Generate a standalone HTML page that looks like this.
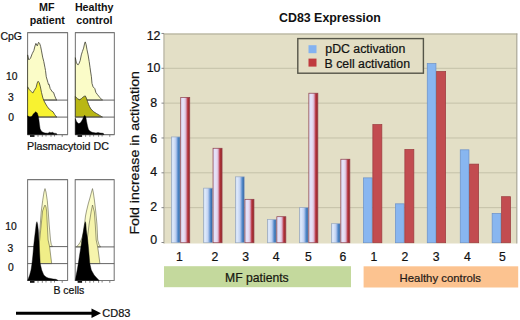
<!DOCTYPE html>
<html><head><meta charset="utf-8">
<style>
html,body{margin:0;padding:0;background:#fff;}
body{width:520px;height:320px;overflow:hidden;}
svg{display:block;font-family:"Liberation Sans",sans-serif;}
text{stroke:#111;stroke-width:0.22px;}
g[font-weight=bold] text, text[font-weight=bold]{stroke:none;}
</style></head>
<body>
<svg width="520" height="320" viewBox="0 0 520 320">
<defs>
<linearGradient id="gb" x1="0" x2="1" y1="0" y2="0">
<stop offset="0" stop-color="#b8c4d0"/>
<stop offset="0.08" stop-color="#d4e2f8"/>
<stop offset="0.2" stop-color="#dde8fa"/>
<stop offset="0.45" stop-color="#c6d6f4"/>
<stop offset="0.6" stop-color="#9cb8e6"/>
<stop offset="0.72" stop-color="#6494d0"/>
<stop offset="0.82" stop-color="#4680c0"/>
<stop offset="0.92" stop-color="#3a6cac"/>
<stop offset="1" stop-color="#4070a8"/>
</linearGradient>
<linearGradient id="gr" x1="0" x2="1" y1="0" y2="0">
<stop offset="0" stop-color="#d8d8f0"/>
<stop offset="0.1" stop-color="#e2e2fa"/>
<stop offset="0.35" stop-color="#e6e0f6"/>
<stop offset="0.5" stop-color="#e0c8e0"/>
<stop offset="0.62" stop-color="#d090a8"/>
<stop offset="0.72" stop-color="#c04858"/>
<stop offset="0.82" stop-color="#a83034"/>
<stop offset="0.95" stop-color="#a02c30"/>
<stop offset="1" stop-color="#b85050"/>
</linearGradient>
</defs>

<!-- ===== LEFT PANEL ===== -->
<g font-weight="bold" font-size="10.7" text-anchor="middle" fill="#111">
<text x="46.8" y="11.2">MF</text>
<text x="47.3" y="24.1">patient</text>
<text x="94.2" y="11.1">Healthy</text>
<text x="94.4" y="24.1">control</text>
</g>
<text x="0.4" y="40.3" font-size="10.5" fill="#111">CpG</text>
<g font-size="10.3" fill="#111" text-anchor="end">
<text x="17.5" y="79.6">10</text>
<text x="13.7" y="100.6">3</text>
<text x="14" y="121">0</text>
<text x="16.7" y="230.4">10</text>
<text x="13.3" y="251.6">3</text>
<text x="13.7" y="271.3">0</text>
</g>

<!-- pDC MF box -->
<g stroke-linejoin="round">
<rect x="27.6" y="32.6" width="40" height="102" fill="#fff" stroke="#767676" stroke-width="1.05"/>
<path d="M27.6,100 L27.6,54.9 L28.8,59.9 L30.5,58.2 L32.2,53.75 L33.9,50.4 L35,45.9 L35.9,43.4 L37.25,45.9 L38.6,42.3 L39.7,43.6 L40.6,46.4 L41.5,50.9 L42.65,57.1 L43.8,61.6 L44.9,67.25 L45.5,70.5 L46.25,76.75 L47.9,82.4 L48.5,84.6 L49.1,84.2 L50.2,88.6 L52.4,91.9 L53.6,92.5 L54.7,95.9 L56.4,99.8 L57,100 Z" fill="#fbfcc8" stroke="#3c3c30" stroke-width="0.8"/>
<line x1="27.6" y1="100.1" x2="67.6" y2="100.1" stroke="#555" stroke-width="0.9"/>
<path d="M27.6,117 L27.6,86.9 L29.4,89.7 L31.1,91.4 L32.75,93.1 L34.4,90.25 L36.1,87.4 L37.25,82.9 L38.15,81.25 L39.3,82.9 L40.4,86.9 L41.5,92.5 L42.9,98.1 L44,100.9 L45.7,104 L47.4,106.75 L49.1,109 L51.3,110.7 L53,111.8 L54.7,114.6 L56.4,116.9 L57,117 Z" fill="#f8f230" stroke="#3c3c30" stroke-width="0.8"/>
<line x1="27.6" y1="117.1" x2="67.6" y2="117.1" stroke="#555" stroke-width="0.9"/>
<path d="M27.6,134.6 L27.6,115.75 L29.4,116.9 L31.1,116.9 L32.2,115.75 L33.3,114.1 L34.4,112.9 L35.6,111.8 L37.25,112.9 L38.15,115.75 L38.9,119.7 L39.5,124.75 L40.1,128.7 L41.2,130.9 L42.9,132.3 L45,133 L48,133.2 L49.5,132.2 L51,132.8 L52.5,132.3 L54,133.2 L56.4,133.4 L57,134.6 Z" fill="#000" stroke="#000" stroke-width="0.4"/>
</g>

<!-- pDC Healthy box -->
<g stroke-linejoin="round">
<rect x="75.35" y="32.6" width="39" height="102" fill="#fff" stroke="#767676" stroke-width="1.05"/>
<path d="M75.35,100 L75.35,57.7 L76.25,62.2 L77.4,64.5 L78.2,64.8 L79.1,63.3 L80.2,60.5 L81.3,54.9 L82.4,51.5 L83.6,48.1 L84.7,43.1 L85.25,41.9 L86.15,44.75 L86.9,49.25 L88.1,54.9 L89.2,61.6 L90,67.25 L90.5,71 L91.4,76.75 L92,83.5 L93.1,86.9 L94.8,88.6 L95.9,92.5 L97.6,94.75 L99.9,97.6 L102.1,99.8 L102.5,100 Z" fill="#fbfcc8" stroke="#3c3c30" stroke-width="0.8"/>
<line x1="75.35" y1="100.1" x2="114.35" y2="100.1" stroke="#555" stroke-width="0.9"/>
<path d="M75.35,117 L75.35,96.4 L77.4,98.7 L79.6,99.8 L81.3,98.7 L82.4,97.6 L84.1,96.4 L85.25,95.9 L86.4,98.1 L87.5,101.5 L88.6,104.5 L89.5,106.5 L90.9,109 L93.7,111.8 L96.5,113.5 L99.3,115.2 L102.1,116.9 L102.5,117 Z" fill="#b9b714" stroke="#3c3c30" stroke-width="0.8"/>
<line x1="75.35" y1="117.1" x2="114.35" y2="117.1" stroke="#555" stroke-width="0.9"/>
<path d="M75.35,134.6 L75.35,118.6 L76.8,121.9 L78.5,123.6 L80.2,123.1 L81.3,121.4 L82.4,119.7 L83.6,116.9 L84.7,115.2 L85.8,116.9 L86.6,121.4 L87.5,125.9 L88.4,129.25 L89.75,130.9 L92,132.3 L96,133 L98,132.5 L100,133 L103.25,133.3 L104,134.6 Z" fill="#000" stroke="#000" stroke-width="0.4"/>
</g>

<text x="27" y="149.6" font-size="10.7" fill="#111">Plasmacytoid DC</text>

<!-- B cell MF box -->
<g stroke-linejoin="round">
<rect x="27.6" y="179.6" width="40" height="100.9" fill="#fff" stroke="#767676" stroke-width="1.05"/>
<path d="M36.5,246.6 L37.5,244 L38.8,240 L40,228 L41.2,212 L42.65,200.75 L44,192 L45,188.6 L46,192 L47.3,200.75 L48.2,211 L49.2,225 L50.5,240 L51.3,244.5 L52.5,246.6 Z" fill="#fbfcc8" stroke="#5e5e44" stroke-width="0.6"/>
<line x1="27.6" y1="246.6" x2="67.6" y2="246.6" stroke="#555" stroke-width="0.9"/>
<path d="M37,263.6 L38.5,250 L39.7,240 L41.2,225 L42.6,211 L44,207 L45,205 L46,207 L46.6,211 L47.3,225 L48.1,240 L49.6,246.6 L50.6,255 L51.7,263.6 Z" fill="#f0ee88" stroke="#5e5e44" stroke-width="0.6"/>
<line x1="27.6" y1="263.6" x2="67.6" y2="263.6" stroke="#555" stroke-width="0.9"/>
<path d="M27.6,280.4 L28,279.5 L29.7,275 L31,270 L32,263.6 L32.9,255 L33.6,246.6 L34.3,240 L35.5,230 L36.2,224 L36.9,221.7 L37.6,224 L38.3,230 L38.9,240 L39.4,248 L40.2,263.6 L41.7,270 L43.8,275 L46,277 L48.1,278 L53.2,279 L56,279.3 L58,280.4 Z" fill="#000" stroke="#000" stroke-width="0.4"/>
</g>

<!-- B cell Healthy box -->
<g stroke-linejoin="round">
<rect x="75.2" y="179.6" width="39" height="100.9" fill="#fff" stroke="#767676" stroke-width="1.05"/>
<path d="M76.2,246.9 L78,245.5 L80,242.5 L82,238 L83.5,232 L84.4,225 L85.5,216 L86.5,211 L88.2,204 L90.2,197 L91.5,192 L92.5,188.6 L93.4,193 L94.4,200 L95.8,212 L97,225 L97.7,240 L99,244.5 L100.6,246.9 Z" fill="#fbfcc8" stroke="#5e5e44" stroke-width="0.6"/>
<line x1="75.2" y1="246.9" x2="114.2" y2="246.9" stroke="#555" stroke-width="0.9"/>
<path d="M84,263.6 L85.5,255 L87.2,240 L89,225 L91.1,212 L92.5,205 L93.6,209 L94.4,212 L95.3,225 L96.2,240 L97.7,246.9 L98.8,255 L99.9,263.6 Z" fill="#f6f4ac" stroke="#5e5e44" stroke-width="0.6"/>
<line x1="75.2" y1="263.6" x2="114.2" y2="263.6" stroke="#555" stroke-width="0.9"/>
<path d="M75.3,280.4 L76.2,275 L77.2,270 L78.3,263.6 L79.6,255 L80.9,246.9 L81.9,240 L83.6,230 L84.6,224 L85.4,221.7 L85.9,224 L86.3,230 L87.7,240 L88.4,246.9 L89.8,263.6 L91.3,270 L94.1,275 L97.7,279 L99.2,280.4 Z" fill="#000" stroke="#000" stroke-width="0.4"/>
</g>

<!-- axis ticks under boxes -->
<g fill="#111">
<rect x="30" y="135.1" width="4.5" height="1.8"/>
<rect x="77.6" y="135.1" width="4.5" height="1.8"/>
<rect x="30" y="281" width="4.5" height="1.8"/>
<rect x="77.6" y="281" width="4.5" height="1.8"/>
</g>
<g stroke="#606060" stroke-width="0.8">
<path d="M38,135 v1.8 M42.3,135 v1.8 M46,135 v1.5 M51,135 v1.8 M54.5,135 v1.5 M62.2,135 v1.8"/>
<path d="M85.6,135 v1.8 M89.9,135 v1.8 M93.6,135 v1.5 M98.6,135 v1.8 M102.1,135 v1.5 M109.8,135 v1.8"/>
<path d="M38,281 v1.8 M42.3,281 v1.8 M46,281 v1.5 M51,281 v1.8 M54.5,281 v1.5 M62.2,281 v1.8"/>
<path d="M85.6,281 v1.8 M89.9,281 v1.8 M93.6,281 v1.5 M98.6,281 v1.8 M102.1,281 v1.5 M109.8,281 v1.8"/>
</g>

<text x="53.4" y="294.3" font-size="10.5" fill="#111">B cells</text>

<!-- arrow -->
<line x1="16" y1="313.3" x2="93" y2="313.3" stroke="#000" stroke-width="3"/>
<path d="M91.5,308.5 L101,313.3 L91.5,318 Z" fill="#000"/>
<text x="102.3" y="317" font-size="11" fill="#111">CD83</text>

<!-- ===== RIGHT CHART ===== -->
<text x="279" y="22.3" font-size="12.4" font-weight="bold" fill="#111">CD83 Expression</text>

<rect x="163.5" y="33.5" width="353" height="210" fill="#e3dfc6"/>
<g stroke="#c4c1a8" stroke-width="1">
<line x1="164" x2="516.5" y1="207.66" y2="207.66"/>
<line x1="164" x2="516.5" y1="172.82" y2="172.82"/>
<line x1="164" x2="516.5" y1="137.98" y2="137.98"/>
<line x1="164" x2="516.5" y1="103.14" y2="103.14"/>
<line x1="164" x2="516.5" y1="68.30" y2="68.30"/>
</g>
<line x1="163.5" y1="34" x2="517.4" y2="34" stroke="#aaa794" stroke-width="1.2"/>
<line x1="516.8" y1="33.5" x2="516.8" y2="243.5" stroke="#a9a694" stroke-width="1.2"/>
<line x1="164" y1="33.5" x2="164" y2="243.5" stroke="#b2b0a2" stroke-width="1.1"/>
<g stroke="#888" stroke-width="1">
<line x1="161.5" x2="164" y1="242.50" y2="242.50"/>
<line x1="161.5" x2="164" y1="207.66" y2="207.66"/>
<line x1="161.5" x2="164" y1="172.82" y2="172.82"/>
<line x1="161.5" x2="164" y1="137.98" y2="137.98"/>
<line x1="161.5" x2="164" y1="103.14" y2="103.14"/>
<line x1="161.5" x2="164" y1="68.30" y2="68.30"/>
<line x1="161.5" x2="164" y1="33.46" y2="33.46"/>
</g>
<g font-size="12.4" fill="#111" text-anchor="middle">
<text x="153.6" y="39.60">12</text>
<text x="153.6" y="71.70">10</text>
<text x="153.6" y="107.10">8</text>
<text x="153.6" y="143.00">6</text>
<text x="153.6" y="176.30">4</text>
<text x="153.6" y="211.30">2</text>
<text x="153.6" y="244.35">0</text>
</g>
<text transform="translate(138.7,234.6) rotate(-90)" font-size="13.6" fill="#111" textLength="163.5" lengthAdjust="spacingAndGlyphs">Fold increase in activation</text>

<g>
<rect x="171.35" y="136.94" width="8.70" height="105.81" fill="url(#gb)" stroke="#98a8c0" stroke-width="0.7"/>
<rect x="180.75" y="97.39" width="9.00" height="145.36" fill="url(#gr)" stroke="#8c3a48" stroke-width="0.7"/>
<rect x="203.65" y="188.15" width="8.70" height="54.60" fill="url(#gb)" stroke="#98a8c0" stroke-width="0.7"/>
<rect x="213.05" y="148.26" width="9.00" height="94.49" fill="url(#gr)" stroke="#8c3a48" stroke-width="0.7"/>
<rect x="235.55" y="176.83" width="8.70" height="65.92" fill="url(#gb)" stroke="#98a8c0" stroke-width="0.7"/>
<rect x="244.95" y="199.30" width="9.00" height="43.45" fill="url(#gr)" stroke="#8c3a48" stroke-width="0.7"/>
<rect x="267.45" y="219.51" width="8.70" height="23.24" fill="url(#gb)" stroke="#98a8c0" stroke-width="0.7"/>
<rect x="276.85" y="216.72" width="9.00" height="26.03" fill="url(#gr)" stroke="#8c3a48" stroke-width="0.7"/>
<rect x="299.45" y="207.66" width="8.70" height="35.09" fill="url(#gb)" stroke="#98a8c0" stroke-width="0.7"/>
<rect x="308.85" y="93.21" width="9.00" height="149.54" fill="url(#gr)" stroke="#8c3a48" stroke-width="0.7"/>
<rect x="331.45" y="223.69" width="8.70" height="19.06" fill="url(#gb)" stroke="#98a8c0" stroke-width="0.7"/>
<rect x="340.85" y="159.23" width="9.00" height="83.52" fill="url(#gr)" stroke="#8c3a48" stroke-width="0.7"/>
<rect x="363.45" y="177.87" width="8.70" height="64.88" fill="#88b6f0" stroke="#6a90c8" stroke-width="0.7"/>
<rect x="372.85" y="124.57" width="9.00" height="118.18" fill="#c24c50" stroke="#9a3a3e" stroke-width="0.7"/>
<rect x="395.45" y="203.83" width="8.70" height="38.92" fill="#88b6f0" stroke="#6a90c8" stroke-width="0.7"/>
<rect x="404.85" y="149.48" width="9.00" height="93.27" fill="#c24c50" stroke="#9a3a3e" stroke-width="0.7"/>
<rect x="427.25" y="63.60" width="8.70" height="179.15" fill="#88b6f0" stroke="#6a90c8" stroke-width="0.7"/>
<rect x="436.65" y="71.44" width="9.00" height="171.31" fill="#c24c50" stroke="#9a3a3e" stroke-width="0.7"/>
<rect x="460.25" y="149.83" width="8.70" height="92.92" fill="#88b6f0" stroke="#6a90c8" stroke-width="0.7"/>
<rect x="469.65" y="164.11" width="9.00" height="78.64" fill="#c24c50" stroke="#9a3a3e" stroke-width="0.7"/>
<rect x="492.15" y="213.41" width="8.70" height="29.34" fill="#88b6f0" stroke="#6a90c8" stroke-width="0.7"/>
<rect x="501.55" y="196.69" width="9.00" height="46.06" fill="#c24c50" stroke="#9a3a3e" stroke-width="0.7"/>
</g>


<!-- legend -->
<rect x="297.8" y="38.6" width="125.6" height="34.6" fill="#e3dec5" stroke="#555548" stroke-width="1.4"/>
<rect x="308.5" y="45.2" width="8" height="8" fill="#84b2f0"/>
<rect x="308.5" y="58.6" width="8" height="8" fill="#c03a3e"/>
<g font-size="12.3" fill="#111">
<text x="325.3" y="53.4">pDC activation</text>
<text x="324.6" y="67.9">B cell activation</text>
</g>

<!-- x labels -->
<g font-size="12.2" fill="#111" text-anchor="middle">
<text x="179.40" y="260.9">1</text>
<text x="214.80" y="260.9">2</text>
<text x="245.60" y="260.9">3</text>
<text x="276.20" y="260.9">4</text>
<text x="308.30" y="260.9">5</text>
<text x="342.90" y="260.9">6</text>
<text x="374.00" y="260.9">1</text>
<text x="405.00" y="260.9">2</text>
<text x="436.10" y="260.9">3</text>
<text x="467.40" y="260.9">4</text>
<text x="502.40" y="260.9">5</text>
</g>

<rect x="164" y="266.2" width="187" height="21" fill="#c4d99d"/>
<rect x="363.6" y="266.3" width="154.6" height="21.2" fill="#fcc390"/>
<text x="225" y="281.7" font-size="12.2" fill="#1a1a10">MF patients</text>
<text x="399.6" y="282.2" font-size="11.3" fill="#30241a" stroke="#30241a" stroke-width="0.3" textLength="81.4" lengthAdjust="spacingAndGlyphs">Healthy controls</text>
</svg>
</body></html>
